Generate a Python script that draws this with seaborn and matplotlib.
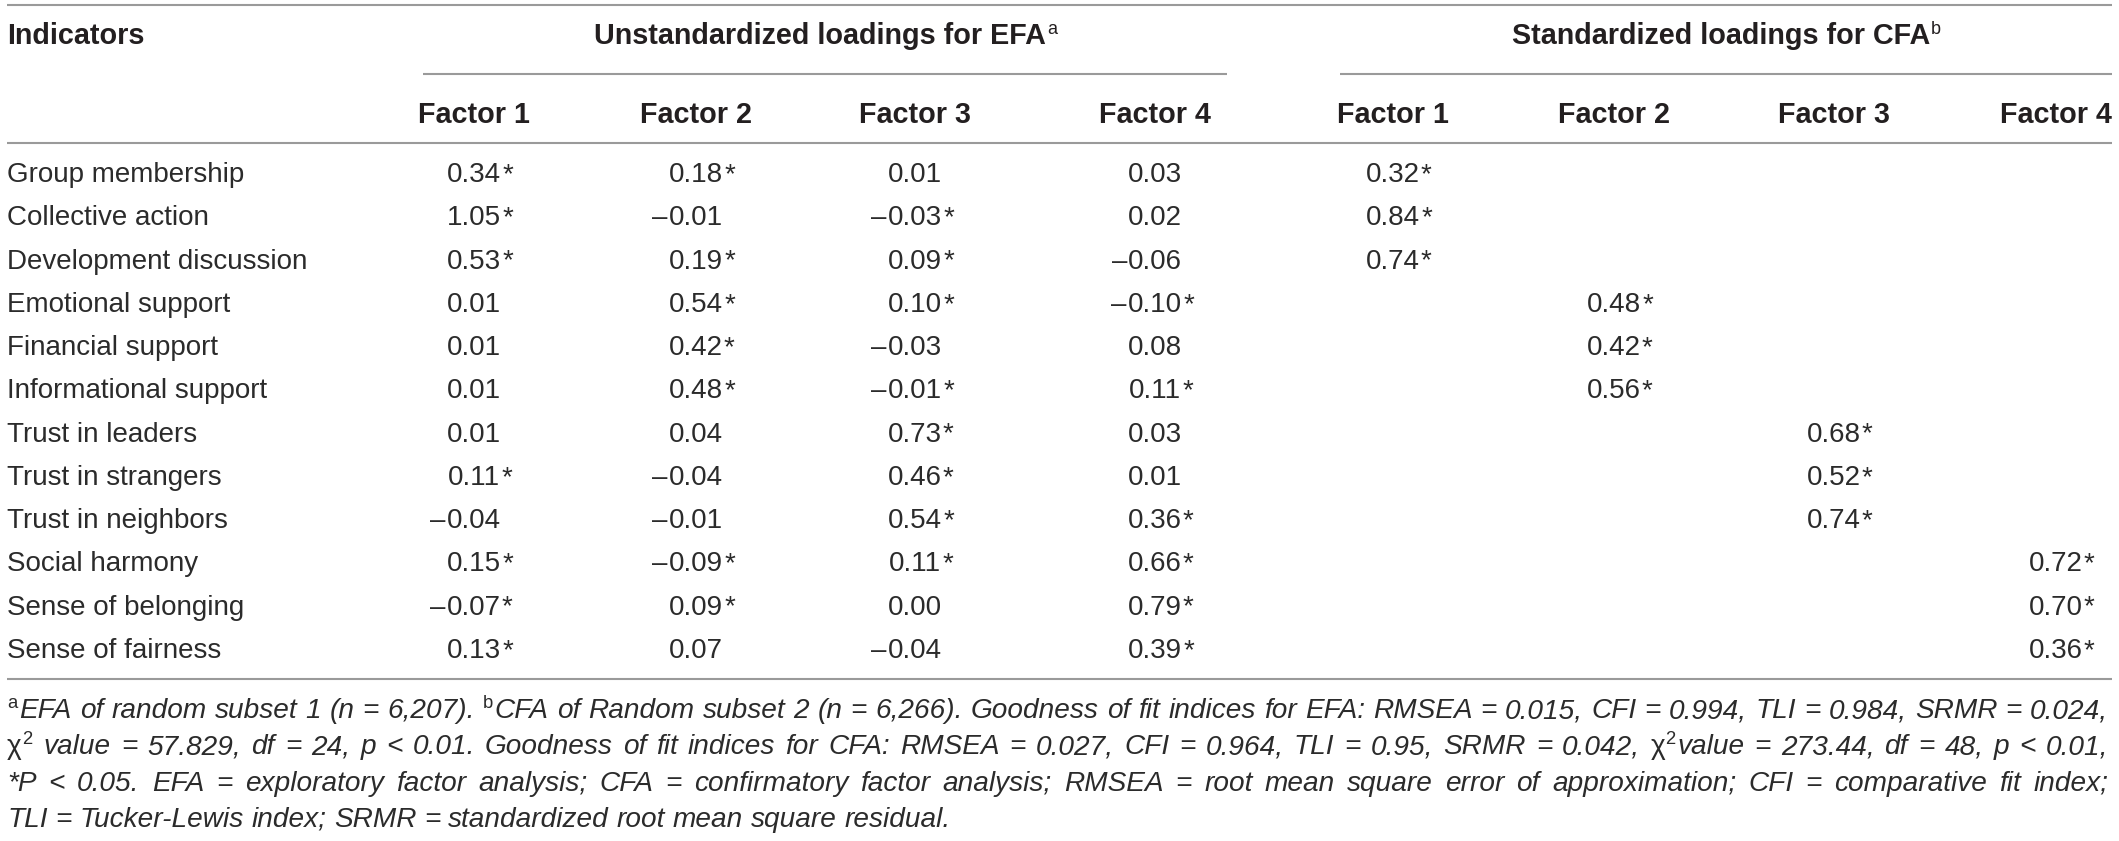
import matplotlib
matplotlib.use("Agg")
import matplotlib.pyplot as plt
import seaborn as sns

# ---------------- data ----------------
indicators = ["Group membership", "Collective action", "Development discussion",
              "Emotional support", "Financial support", "Informational support",
              "Trust in leaders", "Trust in strangers", "Trust in neighbors",
              "Social harmony", "Sense of belonging", "Sense of fairness"]

efa_f1 = [0.34, 1.05, 0.53, 0.01, 0.01, 0.01, 0.01, 0.11, -0.04, 0.15, -0.07, 0.13]
efa_f1_sig = [1, 1, 1, 0, 0, 0, 0, 1, 0, 1, 1, 1]
efa_f2 = [0.18, -0.01, 0.19, 0.54, 0.42, 0.48, 0.04, -0.04, -0.01, -0.09, 0.09, 0.07]
efa_f2_sig = [1, 0, 1, 1, 1, 1, 0, 0, 0, 1, 1, 0]
efa_f3 = [0.01, -0.03, 0.09, 0.10, -0.03, -0.01, 0.73, 0.46, 0.54, 0.11, 0.00, -0.04]
efa_f3_sig = [0, 1, 1, 1, 0, 1, 1, 1, 1, 1, 0, 0]
efa_f4 = [0.03, 0.02, -0.06, -0.10, 0.08, 0.11, 0.03, 0.01, 0.36, 0.66, 0.79, 0.39]
efa_f4_sig = [0, 0, 0, 1, 0, 1, 0, 0, 1, 1, 1, 1]

cfa_values = [0.32, 0.84, 0.74, 0.48, 0.42, 0.56, 0.68, 0.52, 0.74, 0.72, 0.70, 0.36]
cfa_factor = [1, 1, 1, 2, 2, 2, 3, 3, 3, 4, 4, 4]
cfa_sig = [1] * 12

factor_labels = ["Factor 1", "Factor 2", "Factor 3", "Factor 4"]
first_header = "Indicators"
group_titles = ["Unstandardized loadings for EFA", "Standardized loadings for CFA"]
group_marks = ["a", "b"]

footnote_lines = [
    "^aEFA of random subset 1 (n = 6,207). ^bCFA of Random subset 2 (n = 6,266). Goodness of fit indices for EFA: RMSEA = 0.015, CFI = 0.994, TLI = 0.984, SRMR = 0.024,",
    "χ^2 value = 57.829, df = 24, p < 0.01. Goodness of fit indices for CFA: RMSEA = 0.027, CFI = 0.964, TLI = 0.95, SRMR = 0.042, χ^2value = 273.44, df = 48, p < 0.01,",
    "*P < 0.05. EFA = exploratory factor analysis; CFA = confirmatory factor analysis; RMSEA = root mean square error of approximation; CFI = comparative fit index;",
    "TLI = Tucker-Lewis index; SRMR = standardized root mean square residual.",
]
footnote_justified = [True, True, True, False]

# ---------------- style ----------------
sns.set_theme(style="white")
plt.rcParams["font.family"] = ["Liberation Sans", "DejaVu Sans"]

W, H = 2119, 841
fig = plt.figure(figsize=(W / 100, H / 100), dpi=100)
ax = fig.add_axes([0, 0, 1, 1])
ax.set_xlim(0, W)
ax.set_ylim(H, 0)
ax.axis("off")
renderer = fig.canvas.get_renderer()

TXT = "#231f20"
BODY = "#2b2b2b"
RULE = "#9a9a9a"
FS_BODY = 20
FS_HEAD = 20.7
FS_NOTE = 20.2

X_LEFT, X_RIGHT = 7, 2112
efa_x = [474, 696, 915, 1155]
cfa_x = [1393, 1614, 1834, 2056]


def measure(s, **kw):
    t = ax.text(0, 0, s, **kw)
    w = t.get_window_extent(renderer).width
    t.remove()
    return w


# ---------------- rules ----------------
ax.hlines([5, 142.5, 679], X_LEFT, X_RIGHT, color=RULE, lw=1.5)
ax.hlines(73.5, 423, 1227, color=RULE, lw=1.5)
ax.hlines(73.5, 1340, X_RIGHT, color=RULE, lw=1.5)

# ---------------- headers ----------------
HB1 = 44
HB2 = 123
ax.text(X_LEFT, HB1, first_header, fontsize=FS_HEAD, fontweight="bold",
        color=TXT, ha="left", va="baseline")
for title, mark, (xa, xb) in zip(group_titles, group_marks, [(423, 1227), (1340, X_RIGHT)]):
    wt = measure(title, fontsize=FS_HEAD, fontweight="bold")
    wm = measure(mark, fontsize=13)
    x0 = (xa + xb) / 2 - (wt + wm) / 2
    ax.text(x0, HB1, title, fontsize=FS_HEAD, fontweight="bold", color=TXT,
            ha="left", va="baseline")
    ax.text(x0 + wt + 1, HB1 - 10, mark, fontsize=13, color=TXT,
            ha="left", va="baseline")
for cx_list in (efa_x, cfa_x):
    for cx, lab in zip(cx_list, factor_labels):
        ax.text(cx, HB2, lab, fontsize=FS_HEAD, fontweight="bold", color=TXT,
                ha="center", va="baseline")

# ---------------- body ----------------
row_center0, row_step = 172, 43.27
baselines = [row_center0 + i * row_step + 10 for i in range(len(indicators))]


def draw_value(x, y, v, sig):
    s = f"{abs(v):.2f}"
    w = measure(s, fontsize=FS_BODY)
    ax.text(x - w / 2, y, s, fontsize=FS_BODY, color=BODY, ha="left", va="baseline")
    if v < 0:
        ax.text(x - w / 2 - 1, y, "\u2013", fontsize=FS_BODY, color=BODY,
                ha="right", va="baseline")
    if sig:
        ax.text(x + w / 2 + 1, y, "*", fontsize=FS_BODY, color=BODY,
                ha="left", va="baseline")


efa_cols = [(efa_f1, efa_f1_sig), (efa_f2, efa_f2_sig),
            (efa_f3, efa_f3_sig), (efa_f4, efa_f4_sig)]
for i, name in enumerate(indicators):
    y = baselines[i]
    ax.text(X_LEFT, y, name, fontsize=FS_BODY, color=BODY, ha="left", va="baseline")
    for (vals, sigs), cx in zip(efa_cols, efa_x):
        draw_value(cx, y, vals[i], sigs[i])
    draw_value(cfa_x[cfa_factor[i] - 1], y, cfa_values[i], cfa_sig[i])

# ---------------- footnote (justified) ----------------
def parse_word(word):
    pieces = []
    buf = ""
    i = 0
    while i < len(word):
        c = word[i]
        if c == "^" and i + 1 < len(word):
            if buf:
                pieces.append((buf, "it"))
                buf = ""
            pieces.append((word[i + 1], "sup"))
            i += 2
            continue
        if c == "χ":
            if buf:
                pieces.append((buf, "it"))
                buf = ""
            pieces.append((c, "up"))
            i += 1
            continue
        buf += c
        i += 1
    if buf:
        pieces.append((buf, "it"))
    return pieces


def piece_kw(kind):
    if kind == "it":
        return dict(fontsize=FS_NOTE, fontstyle="italic")
    if kind == "up":
        return dict(fontsize=FS_NOTE)
    return dict(fontsize=FS_NOTE * 0.66)


note_baselines = [718, 754, 791, 827]
space_w = measure("a a", fontsize=FS_NOTE, fontstyle="italic") - measure("aa", fontsize=FS_NOTE, fontstyle="italic")
for line, just, yb in zip(footnote_lines, footnote_justified, note_baselines):
    words = [parse_word(w) for w in line.split(" ")]
    widths = []
    for pcs in words:
        tot = 0
        for txt, kind in pcs:
            tot += measure(txt, **piece_kw(kind)) + (2 if kind == "sup" else 0)
        widths.append(tot)
    if just and len(words) > 1:
        gap = (X_RIGHT - 4 - X_LEFT - sum(widths)) / (len(words) - 1)
    else:
        gap = space_w
    x = X_LEFT
    for pcs, wd in zip(words, widths):
        xx = x
        for txt, kind in pcs:
            kw = piece_kw(kind)
            dy = -10 if kind == "sup" else 0
            ax.text(xx, yb + dy, txt, color=BODY, ha="left", va="baseline", **kw)
            xx += measure(txt, **kw) + (2 if kind == "sup" else 0)
        x += wd + gap

fig.savefig("out.png", dpi=100, facecolor="white")
